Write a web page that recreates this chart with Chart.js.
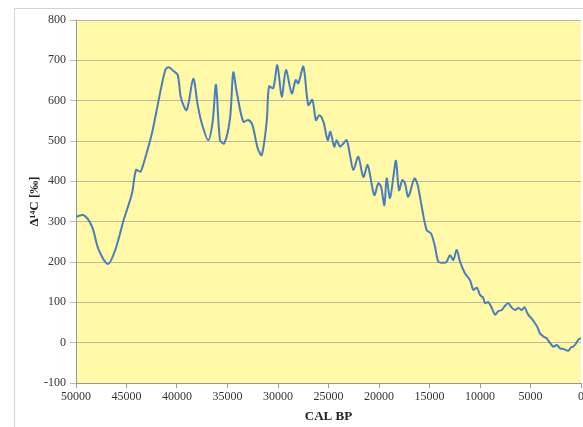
<!DOCTYPE html>
<html>
<head>
<meta charset="utf-8">
<script src="https://cdn.jsdelivr.net/npm/chart.js@4.4.1/dist/chart.umd.min.js"></script>
<style>
  body { margin: 0; background: #fff; }
  #wrap { width: 583px; height: 427px; }
</style>
</head>
<body>
<div id="wrap"><canvas id="line-chart" width="583" height="427"></canvas></div>
<script>
// ages (cal BP) and delta14C values
var years = [50000, 49240, 48420, 47750, 46830, 46110, 45280, 44460, 44060, 43630,
  43300, 42480, 41810, 41160, 40820, 40370, 39930, 39600, 39040, 38390,
  37950, 37550, 36900, 36470, 36140, 35740, 35320, 34750, 34430, 34090,
  33440, 32940, 32540, 32010, 31610, 31120, 30890, 30470, 30070, 29630,
  29210, 28640, 28250, 27990, 27490, 27000, 26600, 26240, 25910, 25510,
  25080, 24820, 24430, 24190, 23860, 23530, 23200, 22870, 22540, 22050,
  21550, 21120, 20470, 20070, 19800, 19470, 19240, 18910, 18580, 18320,
  18020, 17690, 17430, 17100, 16500, 16170, 15770, 15280, 14850, 14450,
  14130, 13630, 13300, 12970, 12640, 12310, 11980, 11490, 10990, 10660,
  10300, 10000, 9700, 9500, 9180, 8800, 8510, 8200, 7850, 7500, 7200,
  6900, 6530, 6200, 5870, 5600, 5380, 5210, 4900, 4550, 4300, 4060,
  3700, 3400, 3100, 2740, 2400, 2080, 1700, 1260, 1000, 770, 500, 270, 0];
var d14c = [312, 316, 288, 230, 195, 230, 304, 370, 428, 424,
  445, 519, 602, 676, 683, 674, 664, 606, 577, 654,
  589, 544, 502, 548, 639, 502, 494, 556, 670, 622,
  548, 552, 540, 482, 465, 548, 635, 631, 688, 610,
  676, 618, 651, 643, 684, 589, 602, 552, 564, 548,
  502, 523, 486, 502, 486, 494, 502, 465, 428, 461,
  411, 440, 366, 395, 387, 341, 407, 358, 411, 451,
  378, 403, 395, 362, 407, 391, 337, 279, 271, 238,
  201, 198, 201, 217, 205, 230, 201, 172, 155, 131,
  136, 118, 112, 98, 101, 84, 69, 78, 81, 92, 98,
  88, 81, 86, 81, 88, 77, 69, 60, 48, 38, 23,
  15, 11, 0, -10, -6, -14, -16, -20, -12, -10, -2, 7, 11];
var yTicks = { min: -100, max: 800, step: 100 };
var xTicks = { min: 0, max: 50000, step: 5000 };

var points = years.map(function(y, i) { return { x: y, y: d14c[i] }; });

// fond jaune de la zone de trace + cadre gris autour du graphique
const bgPlugin = {
  id: 'bg',
  beforeDraw: function(chart) {
    var ctx = chart.ctx, a = chart.chartArea;
    ctx.save();
    ctx.strokeStyle = '#d4d4d4';
    ctx.lineWidth = 1;
    ctx.strokeRect(14.5, 8.5, 700, 500);
    ctx.fillStyle = '#fff9a8';
    ctx.fillRect(a.left, a.top, a.right - a.left, a.bottom - a.top);
    ctx.restore();
  }
};

new Chart(document.getElementById("line-chart"), {
  type: 'line',
  data: {
    datasets: [{
      data: points,
      borderColor: '#4a7ebb',
      borderWidth: 2,
      pointRadius: 0,
      tension: 0.3,
      fill: false
    }]
  },
  options: {
    responsive: false,
    animation: false,
    layout: { padding: { left: 23, top: 20, right: 2, bottom: 0 } },
    plugins: { legend: { display: false }, tooltip: { enabled: false } },
    scales: {
      x: {
        type: 'linear',
        reverse: true,
        min: xTicks.min,
        max: xTicks.max,
        afterFit: function(s) { s.height = 44; s.paddingRight = 0; },
        ticks: {
          stepSize: xTicks.step,
          maxRotation: 0,
          autoSkip: false,
          padding: 2,
          color: '#333',
          font: { family: 'Liberation Serif', size: 12 },
          callback: function(v) { return String(v); }
        },
        grid: { drawOnChartArea: false, drawTicks: true, tickLength: 5, color: '#999' },
        border: { color: '#999' },
        title: {
          display: true,
          text: 'CAL BP',
          color: '#222',
          padding: { top: 0, bottom: 3 },
          font: { family: 'Liberation Serif', size: 13, weight: 'bold' }
        }
      },
      y: {
        min: yTicks.min,
        max: yTicks.max,
        afterFit: function(s) { s.width = 53; },
        ticks: {
          stepSize: yTicks.step,
          padding: 4,
          color: '#333',
          font: { family: 'Liberation Serif', size: 12 }
        },
        grid: { color: '#bdb9a0', tickLength: 6 },
        border: { color: '#999' },
        title: {
          display: true,
          text: 'Δ¹⁴C [‰]',
          color: '#222',
          padding: { top: 4, bottom: 0 },
          font: { family: 'Liberation Serif', size: 13, weight: 'bold' }
        }
      }
    }
  },
  plugins: [bgPlugin]
});
</script>
</body>
</html>
